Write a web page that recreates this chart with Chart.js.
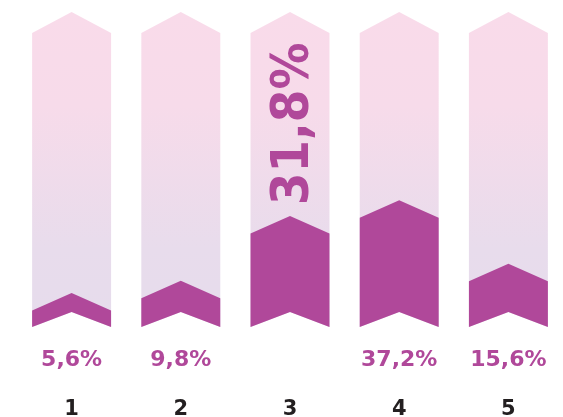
<!DOCTYPE html>
<html>
<head>
<meta charset="utf-8">
<script src="https://cdn.jsdelivr.net/npm/chart.js@4"></script>
<style>
    html, body { margin: 0; padding: 0; background: #ffffff; overflow: hidden; }
    .chart-box { width: 563px; height: 417px; position: relative; }
</style>
</head>
<body>
<div class="chart-box"><canvas id="chevronChart"></canvas></div>
<script>
const categories = ['1', '2', '3', '4', '5'];
const values = [5.6, 9.8, 31.8, 37.2, 15.6];
const trackValues = [100, 100, 100, 100, 100];
// which bar gets its label written inside, rotated
const insideLabelIndex = 2;

const formatPct = v => v.toFixed(1).replace('.', ',') + '%';

document.addEventListener('DOMContentLoaded', function () {
    const PURPLE = '#b0489a';

    // draws bars as upward chevrons with a notched bottom
    function chevron(ctx, bar, tipRise, notch, topY) {
        const half = bar.width / 2;
        const left = bar.x - half;
        const right = bar.x + half;
        ctx.beginPath();
        ctx.moveTo(left, topY);
        ctx.lineTo(bar.x, topY - tipRise);
        ctx.lineTo(right, topY);
        ctx.lineTo(right, bar.base);
        ctx.lineTo(bar.x, bar.base - notch);
        ctx.lineTo(left, bar.base);
        ctx.closePath();
        ctx.fill();
    }

    const chevronPlugin = {
        id: 'chevrons',
        afterDatasetsDraw(chart) {
            const ctx = chart.ctx;
            const area = chart.chartArea;
            const track = chart.getDatasetMeta(0).data;
            const fill = chart.getDatasetMeta(1).data;

            ctx.save();
            const grad = ctx.createLinearGradient(0, area.top - 21, 0, area.bottom);
            grad.addColorStop(0, '#f9dbea');
            grad.addColorStop(0.3, '#f7dbea');
            grad.addColorStop(0.75, '#e8dcec');
            grad.addColorStop(1, '#e6dcec');
            ctx.fillStyle = grad;
            track.forEach(bar => chevron(ctx, bar, 21, 15, bar.y));

            ctx.fillStyle = PURPLE;
            fill.forEach(bar => chevron(ctx, bar, 17.5, 15, bar.y));

            // value labels
            ctx.textAlign = 'center';
            ctx.textBaseline = 'alphabetic';
            fill.forEach((bar, i) => {
                if (i === insideLabelIndex) return;
                ctx.font = 'bold 22px "DejaVu Sans"';
                ctx.fillText(formatPct(values[i]), bar.x, area.bottom + 39);
            });

            // big rotated label inside the third bar
            const big = fill[insideLabelIndex];
            ctx.translate(big.x + 18, big.y - 17.5 - 11);
            ctx.rotate(-Math.PI / 2);
            ctx.textAlign = 'left';
            ctx.font = 'bold 52px "DejaVu Sans Condensed"';
            ctx.fillText(formatPct(values[insideLabelIndex]), 0, 0);
            ctx.restore();
        }
    };

    const ctx = document.getElementById('chevronChart').getContext('2d');
    const chevronChart = new Chart(ctx, {
        type: 'bar',
        data: {
            labels: categories,
            datasets: [{
                label: 'Track',
                data: trackValues,
                backgroundColor: 'rgba(0,0,0,0)',
                grouped: false
            }, {
                label: 'Share',
                data: values,
                backgroundColor: 'rgba(0,0,0,0)',
                grouped: false
            }]
        },
        options: {
            responsive: true,
            maintainAspectRatio: false,
            animation: false,
            barPercentage: 0.723,
            categoryPercentage: 1,
            layout: {
                padding: { left: 17, right: 0, top: 33, bottom: 0 }
            },
            scales: {
                y: {
                    display: false,
                    min: 0,
                    max: 100
                },
                x: {
                    // invisible grid; tickLength only pushes the labels down
                    grid: { display: false, drawTicks: true, tickLength: 70 },
                    border: { display: false },
                    afterFit(scale) { scale.height = 90; },
                    ticks: {
                        color: '#231f20',
                        padding: 0,
                        font: { family: 'DejaVu Sans', size: 21, weight: 'bold' }
                    }
                }
            },
            plugins: {
                legend: { display: false },
                tooltip: { enabled: false }
            }
        },
        plugins: [chevronPlugin]
    });
});
</script>
</body>
</html>
